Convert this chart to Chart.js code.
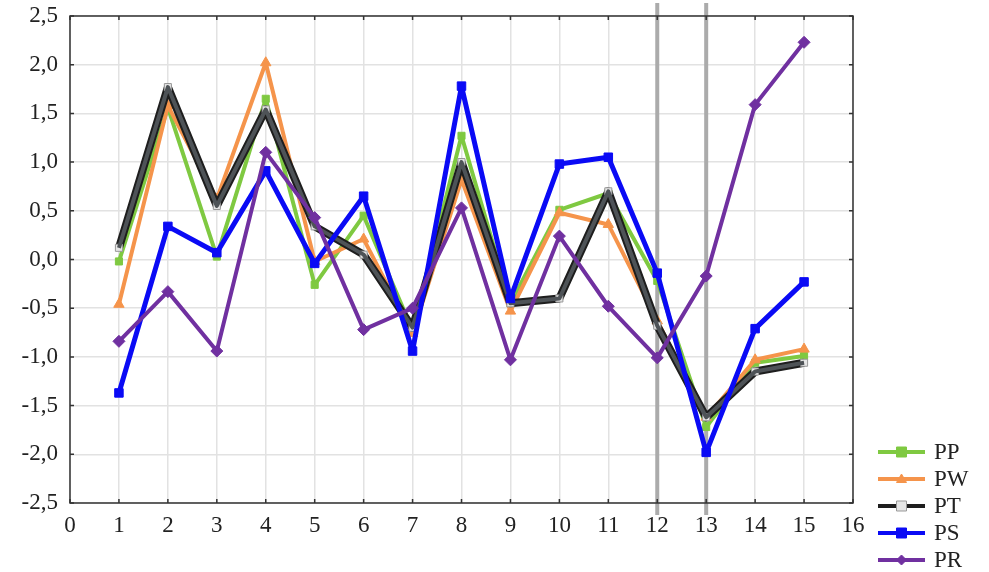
<!DOCTYPE html>
<html>
<head>
<meta charset="utf-8">
<script src="https://cdn.jsdelivr.net/npm/chart.js@4"></script>
<style>
  body { margin: 0; background: #fff; }
</style>
</head>
<body>
<canvas id="chart" width="989" height="572"></canvas>
<script>
const xs = [1, 2, 3, 4, 5, 6, 7, 8, 9, 10, 11, 12, 13, 14, 15];
const labels = ['PP', 'PW', 'PT', 'PS', 'PR'];
const ppVals = [-0.02, 1.56, 0.03, 1.65, -0.26, 0.45, -0.73, 1.27, -0.45, 0.51, 0.68, -0.22, -1.72, -1.06, -0.99];
const pwVals = [-0.46, 1.58, 0.62, 2.02, -0.02, 0.21, -0.76, 0.82, -0.53, 0.48, 0.36, -0.63, -1.62, -1.03, -0.92];
const ptVals = [0.12, 1.77, 0.55, 1.54, 0.34, 0.05, -0.70, 1.00, -0.45, -0.40, 0.70, -0.68, -1.62, -1.15, -1.06];
const psVals = [-1.37, 0.34, 0.07, 0.91, -0.04, 0.65, -0.94, 1.78, -0.40, 0.98, 1.05, -0.14, -1.98, -0.71, -0.23];
const prVals = [-0.84, -0.33, -0.94, 1.10, 0.43, -0.72, -0.50, 0.53, -1.03, 0.24, -0.48, -1.01, -0.17, 1.59, 2.23];
const markLines = [12, 13]; // the two grey vertical lines

const toPts = vals => vals.map((v, i) => ({ x: xs[i], y: v }));
const serif = '"Liberation Serif", "Times New Roman", serif';

const styles = [
  { color: '#7fc941', point: 'rect', width: 4, radius: 5, fill: '#7fc941' },
  { color: '#f5944b', point: 'triangle', width: 4, radius: 6, fill: '#f5944b' },
  { color: '#1e1e1e', point: 'rect', width: 8, radius: 5, fill: '#e6e6e6' },
  { color: '#0a0af5', point: 'rect', width: 5, radius: 6, fill: '#0a0af5' },
  { color: '#7030a0', point: 'rectRot', width: 4, radius: 6, fill: '#7030a0' }
];
const series = [ppVals, pwVals, ptVals, psVals, prVals];
const orders = [10, 9, 8, 6, 5];

const datasets = series.map((vals, i) => ({
  label: labels[i],
  data: toPts(vals),
  borderColor: styles[i].color,
  backgroundColor: styles[i].fill,
  borderWidth: styles[i].width,
  borderJoinStyle: 'round',
  pointStyle: styles[i].point,
  pointRadius: styles[i].radius,
  pointBackgroundColor: styles[i].fill,
  pointBorderColor: i === 2 ? '#999' : styles[i].color,
  pointBorderWidth: 1,
  tension: 0,
  order: orders[i]
}));
// grey core of the thick PT line
datasets.push({
  label: '',
  data: toPts(ptVals),
  borderColor: '#4e5357',
  borderWidth: 4,
  borderJoinStyle: 'round',
  pointRadius: 0,
  tension: 0,
  order: 7
});

const framePlugin = {
  id: 'frame',
  beforeDatasetsDraw(chart) {
    const { ctx, chartArea: a, scales } = chart;
    ctx.save();
    ctx.strokeStyle = '#ababab';
    ctx.lineWidth = 4;
    markLines.forEach(v => {
      const px = scales.x.getPixelForValue(v);
      ctx.beginPath();
      ctx.moveTo(px, 3);
      ctx.lineTo(px, a.bottom + 12);
      ctx.stroke();
    });
    ctx.strokeStyle = '#333';
    ctx.lineWidth = 1.5;
    ctx.strokeRect(a.left, a.top, a.right - a.left, a.bottom - a.top);
    ctx.beginPath();
    scales.x.ticks.forEach(t => {
      const px = scales.x.getPixelForValue(t.value);
      ctx.moveTo(px, a.bottom); ctx.lineTo(px, a.bottom - 4);
      ctx.moveTo(px, a.top); ctx.lineTo(px, a.top + 4);
    });
    scales.y.ticks.forEach(t => {
      const py = scales.y.getPixelForValue(t.value);
      ctx.moveTo(a.left, py); ctx.lineTo(a.left + 4, py);
      ctx.moveTo(a.right, py); ctx.lineTo(a.right - 4, py);
    });
    ctx.stroke();
    ctx.restore();
  },
  afterDraw(chart) {
    const { ctx } = chart;
    ctx.save();
    const x0 = 878, x1 = 925, y0 = 452, gap = 27;
    labels.forEach((lab, i) => {
      const y = y0 + i * gap;
      const s = styles[i];
      ctx.strokeStyle = s.color;
      ctx.lineWidth = Math.min(s.width, 4);
      ctx.beginPath();
      ctx.moveTo(x0, y); ctx.lineTo(x1, y);
      ctx.stroke();
      const cx = (x0 + x1) / 2;
      ctx.fillStyle = s.fill;
      ctx.strokeStyle = i === 2 ? '#999' : s.color;
      ctx.lineWidth = 1;
      const r = 5;
      ctx.beginPath();
      if (s.point === 'triangle') {
        ctx.moveTo(cx, y - r); ctx.lineTo(cx + r, y + r * 0.7); ctx.lineTo(cx - r, y + r * 0.7); ctx.closePath();
      } else if (s.point === 'rectRot') {
        ctx.moveTo(cx, y - r); ctx.lineTo(cx + r, y); ctx.lineTo(cx, y + r); ctx.lineTo(cx - r, y); ctx.closePath();
      } else {
        ctx.rect(cx - r, y - r, 2 * r, 2 * r);
      }
      ctx.fill(); ctx.stroke();
      ctx.fillStyle = '#222';
      ctx.font = '23px ' + serif;
      ctx.textBaseline = 'middle';
      ctx.fillText(lab, 934, y + 1);
    });
    ctx.restore();
  }
};

function draw() {
  new Chart(document.getElementById('chart'), {
    type: 'line',
    data: { datasets },
    options: {
      responsive: false,
      animation: false,
      layout: { padding: { left: 4, top: 16, right: 136, bottom: 0 } },
      plugins: { legend: { display: false }, tooltip: { enabled: false } },
      scales: {
        x: {
          type: 'linear',
          min: 0,
          max: 16,
          ticks: {
            stepSize: 1,
            padding: 9,
            color: '#222',
            font: { family: serif, size: 23 }
          },
          grid: { color: '#e2e2e2', lineWidth: 1.5, drawTicks: false },
          border: { display: false },
          afterFit: s => { s.height = 69; s.paddingLeft = 0; s.paddingRight = 0; }
        },
        y: {
          min: -2.5,
          max: 2.5,
          ticks: {
            stepSize: 0.5,
            padding: 12,
            color: '#222',
            font: { family: serif, size: 23 },
            callback: v => v.toFixed(1).replace('.', ',')
          },
          grid: { color: '#e2e2e2', lineWidth: 1.5, drawTicks: false },
          border: { display: false },
          afterFit: s => { s.width = 66; s.paddingTop = 0; s.paddingBottom = 0; }
        }
      }
    },
    plugins: [framePlugin]
  });
}

document.fonts.load('23px "Liberation Serif"').then(draw, draw);
</script>
</body>
</html>
